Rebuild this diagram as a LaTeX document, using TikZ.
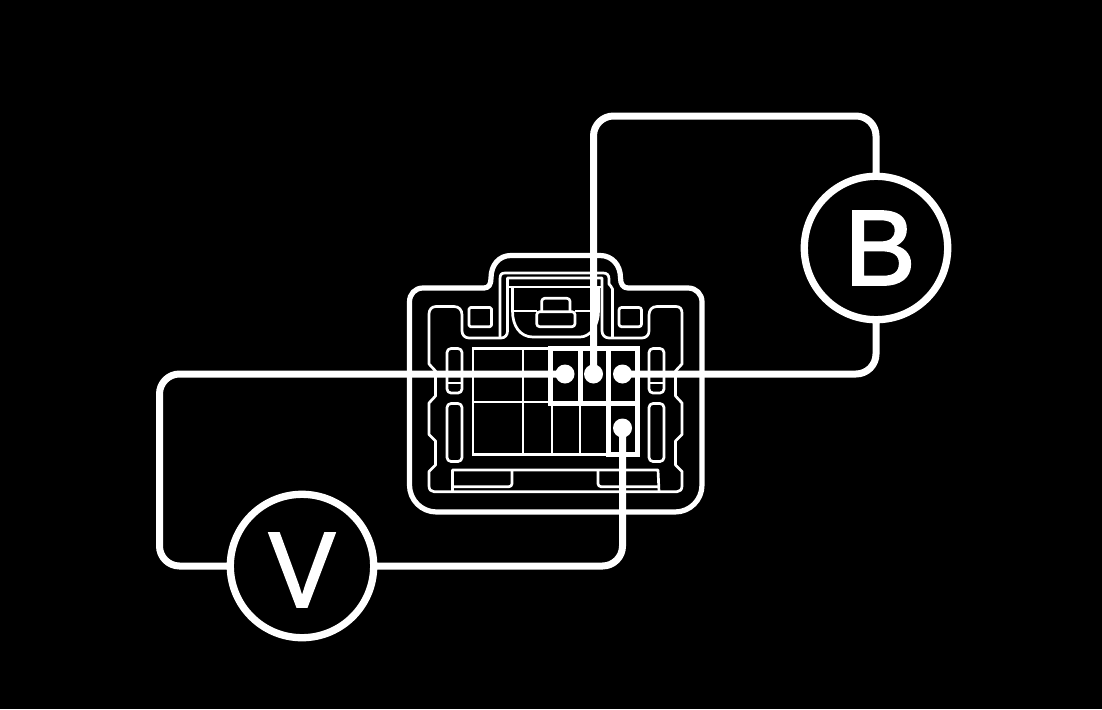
\documentclass[tikz,border=0pt]{standalone}
\usepackage{fontspec}
\setmainfont{Liberation Sans}
\newfontfamily\meterfont[FakeBold=2]{Liberation Sans}
\tikzset{
  thinline/.style={draw=white,line width=2.7pt,line join=round},
  outline/.style={draw=white,line width=5.2pt,line join=round},
  thickbox/.style={draw=white,line width=5pt,line join=miter},
  wire/.style={draw=white,line width=7pt,rounded corners=20pt},
  slot/.style={thinline,rounded corners=4pt},
  meter/.style={circle,draw=white,line width=7.3pt,minimum size=143.4pt,inner sep=0pt,outer sep=0pt,text=white,font=\meterfont\fontsize{107}{107}\selectfont},
  dot/.style={circle,fill=white,draw=none,inner sep=0pt,outer sep=0pt},
}
\begin{document}
\begin{tikzpicture}[x=1pt,y=-1pt]
\fill[black] (0,0) rectangle (1102,709);
\useasboundingbox (0,0) rectangle (1102,709);
% housing outline
\draw[outline] (409.5,485) -- (409.5,302) .. controls (409.5,294) and (415,288) .. (423,288) -- (484,288)
  .. controls (489,288) and (491,284) .. (491,278) .. controls (491,265) and (499,255.5) .. (511,255.5)
  -- (600,255.5) .. controls (612,255.5) and (620.5,265) .. (620.5,278) .. controls (620.5,284) and (623,288) .. (628,288)
  -- (688,288) .. controls (696,288) and (702,294) .. (702,302) -- (702,485)
  .. controls (702,500) and (690,512) .. (675,512) -- (436.5,512)
  .. controls (421.5,512) and (409.5,500) .. (409.5,485) -- cycle;
% inner contour
\draw[thinline] (507.5,278) -- (507.5,331) .. controls (507.5,335) and (505,338) .. (501,338)
  -- (469,338) .. controls (465,338) and (462,335) .. (462,331) -- (462,315)
  .. controls (462,310) and (459,306.5) .. (454,306.5) -- (436,306.5)
  .. controls (431.5,306.5) and (429,310) .. (429,314) -- (429,364) -- (435.5,371) -- (435.5,396) -- (429,403)
  -- (429,434.5) -- (435.5,441) -- (435.5,465) -- (429,471.5) -- (429,486)
  .. controls (429,489.5) and (431,491.7) .. (434,491.7) -- (677,491.7)
  .. controls (680,491.7) and (682,489.5) .. (682,486) -- (682,471.5) -- (675.5,465) -- (675.5,441) -- (682,434.5)
  -- (682,403) -- (675.5,396) -- (675.5,371) -- (682,364) -- (682,313)
  .. controls (682,309) and (680,306.5) .. (676,306.5) -- (657,306.5)
  .. controls (652,306.5) and (649,310) .. (649,315) -- (649,331)
  .. controls (649,335) and (646,338) .. (642,338) -- (609,338)
  .. controls (605,338) and (602,335) .. (602,331) -- (602,278) -- cycle;
\draw[thinline] (500,338) -- (500,279) .. controls (500,275) and (501,273) .. (505,273) -- (603,273)
  .. controls (607,273) and (609,275) .. (609,279) -- (609,284) .. controls (609,286) and (612.5,286) .. (612.5,289) -- (612.5,338);
\draw[thinline] (508,287) -- (601,287);
% cup
\draw[thinline] (512.5,287) -- (512.5,311) .. controls (512.5,326) and (520,337) .. (533,337) -- (580,337)
  .. controls (590,337) and (598.5,326) .. (598.5,311) -- (598.5,287);
\draw[thinline] (512.5,311) -- (537,311);
\draw[thinline] (575,311) -- (598.5,311);
\draw[slot,rounded corners=3pt] (536.7,311.7) rectangle (575,326.7);
\draw[thinline,rounded corners=3pt] (541.7,311.7) -- (541.7,298.3) -- (570,298.3) -- (570,311.7);
% squares
\draw[thinline,rounded corners=1.5pt] (469,307.5) rectangle (491.5,326.7);
\draw[thinline,rounded corners=2.5pt] (619,307.5) rectangle (641.5,326.7);
% slots
\draw[slot] (447,348.5) rectangle (462,393);
\draw[thinline] (447,383) -- (462,383);
\draw[slot] (447,403.5) rectangle (462,461.5);
\draw[slot] (649,348.5) rectangle (664,393);
\draw[thinline] (649,383) -- (664,383);
\draw[slot] (649,403.5) rectangle (664,461.5);
% trays
\draw[thinline] (452.5,491.7) -- (452.5,470) -- (658,470) -- (659,491.7);
\draw[thinline,rounded corners=3pt] (452.5,486.7) -- (512,486.7) -- (512,470);
\draw[thinline,rounded corners=3pt] (658.3,486.7) -- (598,486.7) -- (598,470);
% terminal grid
\draw[thinline,line join=miter] (473,348.5) rectangle (637,454.5);
\draw[thinline] (473,402) -- (637,402);
\draw[thinline] (523,348.5) -- (523,454.5);
\draw[thinline] (552,348.5) -- (552,454.5);
\draw[thinline] (580,348.5) -- (580,454.5);
\draw[thickbox] (550.5,348.5) rectangle (637.5,403);
\draw[thickbox] (580,348.5) -- (580,403);
\draw[thickbox] (608,348.5) -- (608,403);
\draw[thickbox] (608,403) rectangle (637.5,454.5);
% meters and terminals
\node[meter] (B) at (876,248) {\hspace*{8pt}B};
\node[meter] (V) at (302,566) {\raisebox{-4pt}[\height][0pt]{\scalebox{0.93}[1]{V}}};
\node[dot,minimum size=19pt] (p1) at (565,374) {};
\node[dot,minimum size=19pt] (p2) at (593.5,374) {};
\node[dot,minimum size=19pt] (p3) at (622.5,374) {};
\node[dot,minimum size=19pt] (p4) at (622.5,428) {};
\coordinate (bt) at (593.5,116);
\coordinate (bb) at (876,374);
\coordinate (vl) at (159.5,374);
\coordinate (vr) at (622.5,566);
% wires
\draw[wire] (B.north) |- (bt) -- (p2.center);
\draw[wire] (B.south) -- (bb) -- (p3.center);
\draw[wire] (V.west) -| (vl) -- (p1.center);
\draw[wire] (V.east) -- (vr) -- (p4.center);
\end{tikzpicture}
\end{document}
